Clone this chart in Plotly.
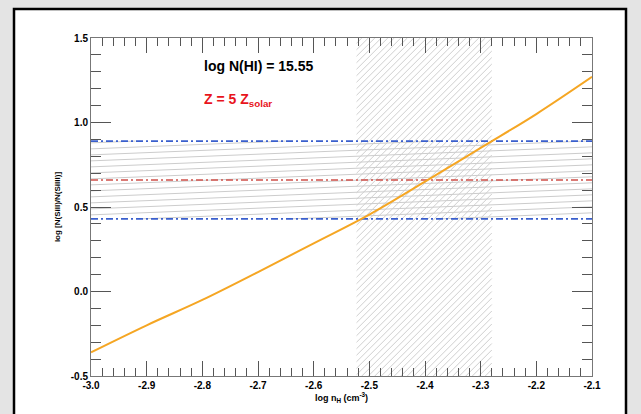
import plotly.graph_objects as go
import numpy as np

# ---- data ----
log_nH = [-3.0, -2.9, -2.8, -2.7, -2.6, -2.5, -2.4, -2.3, -2.2, -2.1]
log_ratio = [-0.36, -0.20, -0.05, 0.115, 0.285, 0.455, 0.65, 0.85, 1.05, 1.27]
obs_ratio = 0.66      # red dash-dot
obs_lo = 0.43         # blue dash-dot (lower)
obs_hi = 0.89         # blue dash-dot (upper)
nH_lo = -2.523        # allowed density band
nH_hi = -2.28
x_range = [-3.0, -2.1]
y_range = [-0.5, 1.5]
x_ticks = [-3.0, -2.9, -2.8, -2.7, -2.6, -2.5, -2.4, -2.3, -2.2, -2.1]
y_ticks = [-0.5, 0.0, 0.5, 1.0, 1.5]

# ---- layout geometry (pixels) ----
W, H = 641, 414
ML, MR, MT, MB = 91, 49, 38, 38
PW, PH = W - ML - MR, H - MT - MB
px_x = PW / (x_range[1] - x_range[0])
px_y = PH / (y_range[1] - y_range[0])


def clip_line(a, m, xlo, xhi, ylo, yhi):
    """segment of y = a + m*x inside the rectangle"""
    x0, x1 = xlo, xhi
    if m != 0:
        xa, xb = (ylo - a) / m, (yhi - a) / m
        x0, x1 = max(x0, min(xa, xb)), min(x1, max(xa, xb))
    elif not (ylo <= a <= yhi):
        return None
    if x1 <= x0:
        return None
    return (x0, a + m * x0, x1, a + m * x1)


def hatch(xlo, xhi, ylo, yhi, pix_slope, spacing_px, vertical_spacing):
    m = pix_slope * px_x / px_y
    xs, ys = [], []
    if vertical_spacing:
        step = spacing_px / px_y
    else:
        step = spacing_px * pix_slope / px_y
    a_min = ylo - m * (xhi - xlo) - step
    a_max = yhi + step
    for a0 in np.arange(a_min, a_max, step):
        a = a0 - m * xlo
        seg = clip_line(a, m, xlo, xhi, ylo, yhi)
        if seg:
            xs += [seg[0], seg[2], None]
            ys += [seg[1], seg[3], None]
    return xs, ys


fig = go.Figure()

# vertical (density) band hatch
hx, hy = hatch(nH_lo, nH_hi, y_range[0], y_range[1], 1.0, 6.5, False)
fig.add_trace(go.Scatter(x=hx, y=hy, mode="lines",
                         line=dict(color="#cfcfcf", width=1), hoverinfo="skip"))
# horizontal (observed ratio) band hatch
hx2, hy2 = hatch(x_range[0], x_range[1], obs_lo, obs_hi, 0.04, 6.0, True)
fig.add_trace(go.Scatter(x=hx2, y=hy2, mode="lines",
                         line=dict(color="#cccccc", width=1), hoverinfo="skip"))

dd = "7px,3px,2px,3px"
for val, col in [(obs_hi, "#3a5fcd"), (obs_lo, "#3a5fcd"), (obs_ratio, "#d0504a")]:
    fig.add_trace(go.Scatter(x=x_range, y=[val, val], mode="lines",
                             line=dict(color=col, width=1.6, dash=dd), hoverinfo="skip"))

fig.add_trace(go.Scatter(x=log_nH, y=log_ratio, mode="lines",
                         line=dict(color="#f5a623", width=2, shape="spline"),
                         hoverinfo="skip"))

# white panel with black frame
fig.add_shape(type="rect", xref="paper", yref="paper",
              x0=(14 - ML) / PW, x1=(626 - ML) / PW,
              y0=-0.3, y1=1 + (MT - 9) / PH,
              fillcolor="white", line=dict(color="black", width=2.5), layer="below")

bold = dict(family="Liberation Sans, Arial, sans-serif", color="black", weight="bold")
fig.add_annotation(x=-2.80, y=1.333, text="log N(HI) = 15.55", showarrow=False,
                   xanchor="left", yanchor="middle",
                   font=dict(size=14, **bold))
fig.add_annotation(x=-2.80, y=1.131, text="Z = 5 Z<sub>solar</sub>", showarrow=False,
                   xanchor="left", yanchor="middle",
                   font=dict(size=14, family="Liberation Sans, Arial, sans-serif",
                             color="#e8141c", weight="bold"))

axis_common = dict(showgrid=False, zeroline=False, showline=True, linecolor="#777777",
                   linewidth=1, ticks="inside", mirror="ticks", tickcolor="#555555",
                   tickwidth=1, tickfont=dict(size=10, **bold))

fig.update_xaxes(range=x_range, tickvals=x_ticks, ticktext=[f"{v:.1f}" for v in x_ticks],
                 ticklen=15,
                 minor=dict(dtick=0.02, ticks="inside", ticklen=8, tickcolor="#555555",
                            showgrid=False),
                 title=dict(text="log n<sub>H</sub> (cm<sup>-3</sup>)",
                            font=dict(size=9, **bold), standoff=2),
                 **axis_common)
fig.update_yaxes(range=y_range, tickvals=y_ticks, ticktext=[f"{v:.1f}" for v in y_ticks],
                 ticklen=20,
                 minor=dict(dtick=0.1, ticks="inside", ticklen=10, tickcolor="#555555",
                            showgrid=False),
                 title=dict(text="log [N(SiII)/N(SiIII)]",
                            font=dict(size=8, **bold), standoff=8),
                 **axis_common)

fig.update_layout(width=W, height=H, margin=dict(l=ML, r=MR, t=MT, b=MB),
                  paper_bgcolor="#e4e4e4", plot_bgcolor="white", showlegend=False)

fig.write_html("out.html", config={"displayModeBar": False},
               post_script="document.body.style.margin='0';"
                           "document.body.style.background='#e4e4e4';")
